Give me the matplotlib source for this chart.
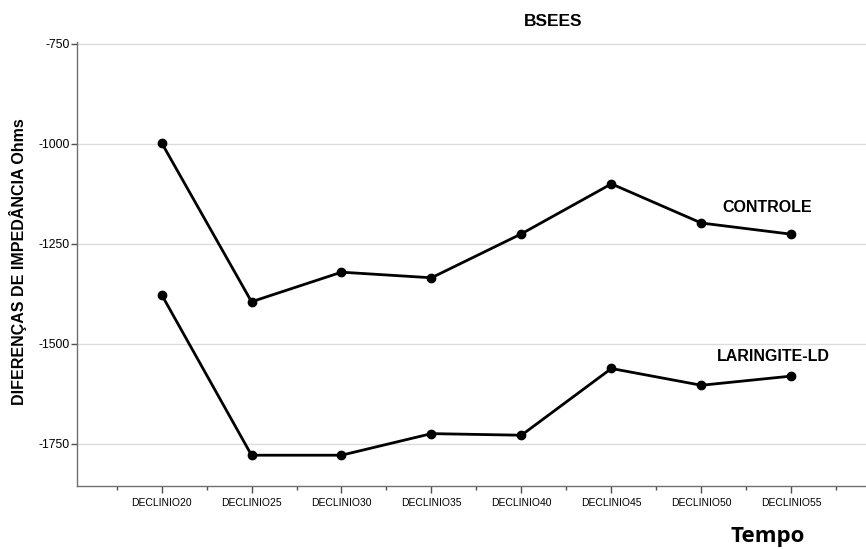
import matplotlib.pyplot as plt
import numpy as np

# tempos e médias das diferenças de impedância
tempos = ['DECLINIO20', 'DECLINIO25', 'DECLINIO30', 'DECLINIO35',
          'DECLINIO40', 'DECLINIO45', 'DECLINIO50', 'DECLINIO55']
controle = [-997, -1395, -1321, -1335, -1225, -1100, -1198, -1226]
laringite = [-1377, -1779, -1779, -1725, -1729, -1562, -1604, -1581]

plt.rcParams['font.family'] = ['Liberation Sans', 'DejaVu Sans']

fig = plt.figure(figsize=(8.66, 5.49), dpi=100)
ax = fig.add_axes([0.0889, 0.1148, 0.9111, 0.8087])

x = np.arange(len(tempos))
ax.plot(x, controle, color='black', lw=2.0, marker='o', ms=6, zorder=3)
ax.plot(x, laringite, color='black', lw=2.0, marker='o', ms=6, zorder=3)

ax.set_xlim(-0.94, 7.83)
ax.set_ylim(-1856, -745)
ax.set_yticks([-750, -1000, -1250, -1500, -1750])
ax.set_yticklabels(['-750', '-1000', '-1250', '-1500', '-1750'], fontsize=8.8)
ax.set_xticks(x)
ax.set_xticklabels(tempos, fontsize=7.5)
ax.set_xticks(np.arange(-0.5, 8, 1), minor=True)
ax.grid(axis='y', color='#dcdcdc', lw=1.0, zorder=0)

for s in ['top', 'right']:
    ax.spines[s].set_visible(False)
for s in ['left', 'bottom']:
    ax.spines[s].set_color('#707070')
    ax.spines[s].set_linewidth(1.0)
ax.tick_params(axis='y', length=4, width=1, color='#505050', pad=1)
ax.tick_params(axis='x', which='major', length=5, width=1, color='#505050', pad=4)
ax.tick_params(axis='x', which='minor', length=3, width=1, color='#505050')

ax.text(6.73, -1159, 'CONTROLE', fontsize=11.5, fontweight='bold', ha='center', va='center')
ax.text(6.8, -1531, 'LARINGITE-LD', fontsize=11.5, fontweight='bold', ha='center', va='center')

fig.text(0.6386, 0.96, 'BSEES', fontsize=12.5, fontweight='bold', ha='center', va='center')
fig.text(0.021, 0.523, 'DIFERENÇAS DE IMPEDÂNCIA Ohms', fontsize=11.5, fontweight='bold',
         rotation=90, ha='center', va='center')
fig.text(0.886, 0.023, 'Tempo', fontsize=16, fontweight='bold', family='Open Sans',
         ha='center', va='center')

fig.savefig('out.png', dpi=100)
